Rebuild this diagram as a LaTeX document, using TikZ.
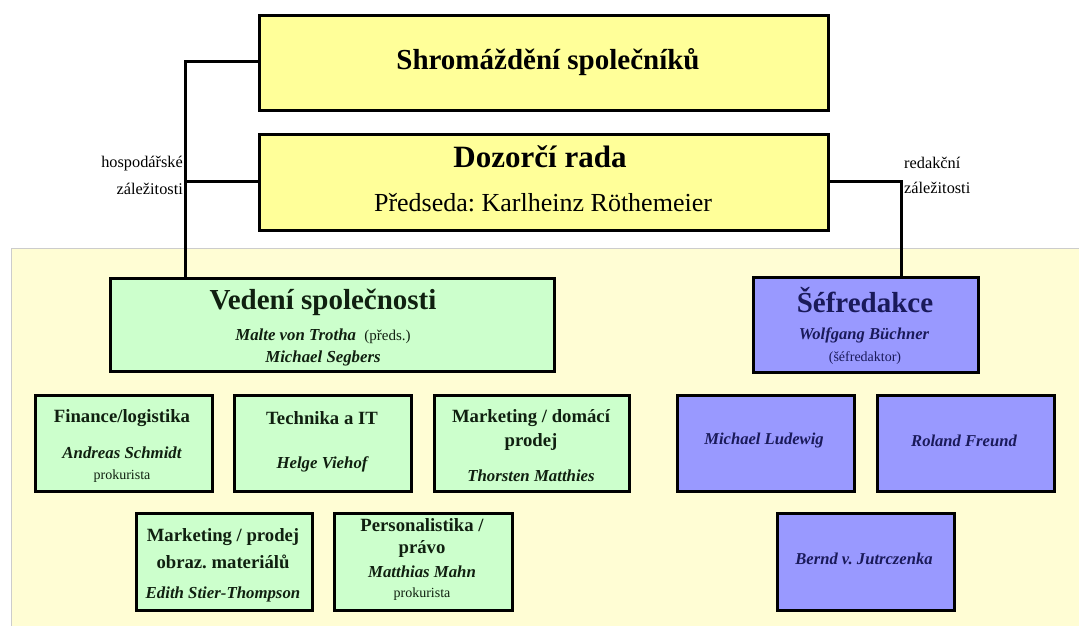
\documentclass[tikz,border=0pt]{standalone}
\usepackage{fontspec}
\setmainfont{Liberation Serif}
\frenchspacing
\definecolor{ylw}{HTML}{FFFF99}
\definecolor{cream}{HTML}{FFFDD4}
\definecolor{grn}{HTML}{CCFFCC}
\definecolor{blu}{HTML}{9999FF}
\definecolor{navy}{HTML}{1A1A5A}
\definecolor{dgrn}{HTML}{102010}
\newcommand{\fsz}[1]{\fontsize{#1}{#1}\selectfont}
\tikzset{
  box/.style={draw=black, line width=3.4pt, rectangle, inner sep=0pt, anchor=north west},
  ybox/.style={box, fill=ylw},
  gbox/.style={box, fill=grn},
  bbox/.style={box, fill=blu},
  txt/.style={inner sep=0pt, anchor=center},
  gtitle/.style={txt, font=\bfseries\fsz{18.7}, text=dgrn},
  gname/.style={txt, font=\bfseries\itshape\fsz{16.8}, text=dgrn},
  bname/.style={txt, font=\bfseries\itshape\fsz{16.6}, text=navy},
  small/.style={txt, font=\fsz{14}},
  lab/.style={txt, font=\fsz{16.3}},
  link/.style={draw=black, line width=3pt},
}
\begin{document}
\begin{tikzpicture}[x=1pt,y=-1pt]
\useasboundingbox (0,0) rectangle (1079,626);
\fill[white] (0,0) rectangle (1079,626);
\draw[fill=cream, draw=black!20, line width=0.8pt] (11,248) rectangle (1085,630);

% top boxes
\node[ybox, minimum width=569pt, minimum height=95pt] (sh) at (258,14) {};
\node[txt, font=\bfseries\fsz{29}] (sht) at (548,62) {Shromáždění společníků};
\node[ybox, minimum width=569pt, minimum height=96pt] (dr) at (258,133) {};
\node[txt, font=\bfseries\fsz{31}] (drt) at (540,157) {Dozorčí rada};
\node[txt, font=\fsz{26}] (drp) at (543,203) {Předseda: Karlheinz Röthemeier};

% Vedeni
\node[gbox, minimum width=444pt, minimum height=93pt] (ved) at (109,277) {};
\node[txt, font=\bfseries\fsz{29}, text=dgrn] (vedt) at (323,302) {Vedení společnosti};
\node[txt, text=dgrn] (ved1) at (323,336) {\bfseries\itshape\fsz{16.8}Malte von Trotha\ \ \normalfont\fsz{15}(předs.)};
\node[gname] (ved2) at (323,358) {Michael Segbers};

% Sefredakce
\node[bbox, minimum width=225pt, minimum height=95pt] (sef) at (752,276) {};
\node[txt, font=\bfseries\fsz{29}, text=navy] (seft) at (865,300) {Šéfredakce};
\node[bname] (sef1) at (864,335) {Wolfgang Büchner};
\node[small, text=navy] (sef2) at (865,358) {(šéfredaktor)};

% connectors
\coordinate (lx) at (185,62);
\coordinate (rx) at (901,181);
\draw[link] (sh.west |- lx) -- (lx) -- (lx |- ved.north);
\draw[link] (dr.west |- 0,181) -- (185,181);
\draw[link] (dr.east |- rx) -- (rx) -- (rx |- sef.north);
\node[lab, anchor=east] (lab1) at (183,164) {hospodářské};
\node[lab, anchor=east] (lab2) at (183,189) {záležitosti};
\node[lab, anchor=west] (lab3) at (904,163) {redakční};
\node[lab, anchor=west] (lab4) at (904,188) {záležitosti};

% green row 2
\node[gbox, minimum width=177pt, minimum height=96pt] (fin) at (34,394) {};
\node[gtitle] (fint) at (122,418) {Finance/logistika};
\node[gname] (fin1) at (122,453) {Andreas Schmidt};
\node[small, text=dgrn] (fin2) at (122,476) {prokurista};

\node[gbox, minimum width=177pt, minimum height=96pt] (tech) at (233,394) {};
\node[gtitle] (techt) at (322,418) {Technika a IT};
\node[gname] (tech1) at (322,464) {Helge Viehof};

\node[gbox, minimum width=195pt, minimum height=96pt] (mkd) at (433,394) {};
\node[gtitle] (mkdt) at (531,418) {Marketing / domácí};
\node[gtitle] (mkdt2) at (531,442) {prodej};
\node[gname] (mkd1) at (531,476) {Thorsten Matthies};

% green row 3
\node[gbox, minimum width=176pt, minimum height=97pt] (mkp) at (135,512) {};
\node[gtitle] (mkpt) at (223,537) {Marketing / prodej};
\node[gtitle] (mkpt2) at (223,562) {obraz. materiálů};
\node[gname] (mkp1) at (223,594) {Edith Stier-Thompson};

\node[gbox, minimum width=178pt, minimum height=97pt] (per) at (333,512) {};
\node[gtitle] (pert) at (422,525) {Personalistika /};
\node[gtitle] (pert2) at (422,549) {právo};
\node[gname] (per1) at (422,572) {Matthias Mahn};
\node[small, text=dgrn] (per2) at (422,594) {prokurista};

% blue boxes
\node[bbox, minimum width=177pt, minimum height=96pt] (lud) at (676,394) {};
\node[bname] (ludt) at (764,441) {Michael Ludewig};
\node[bbox, minimum width=177pt, minimum height=96pt] (fre) at (876,394) {};
\node[bname] (fret) at (964,441) {Roland Freund};
\node[bbox, minimum width=177pt, minimum height=97pt] (jut) at (776,512) {};
\node[bname] (jutt) at (864,559) {Bernd v. Jutrczenka};
\end{tikzpicture}
\end{document}
